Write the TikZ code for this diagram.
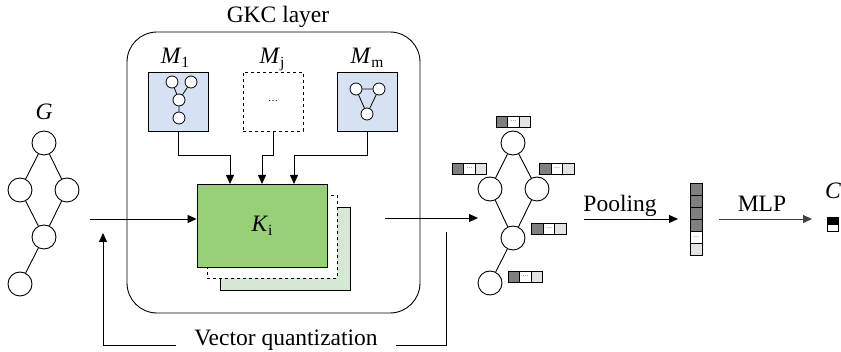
\documentclass[tikz,border=0pt]{standalone}
\usepackage{fontspec}
\setmainfont{Liberation Serif}
\usetikzlibrary{arrows.meta}
\definecolor{kgreen}{HTML}{97D077}
\definecolor{klight}{HTML}{D5E8D4}
\definecolor{mblue}{HTML}{D6E2F4}
\definecolor{dkgray}{HTML}{7F7F7F}
\definecolor{ltgray}{HTML}{E3E3E3}
\newcommand\lowsub[1]{\raisebox{-0.35ex}{\fontsize{15.5}{15.5}\selectfont #1}}
\tikzset{
  gnode/.style={circle,draw,fill=white,minimum size=24pt,inner sep=0pt},
  snode/.style={circle,draw,fill=white,minimum size=12pt,inner sep=0pt,line width=0.8pt},
  mbox/.style={draw,minimum width=60pt,minimum height=59pt,inner sep=0pt},
  kbox/.style={draw,minimum width=130pt,minimum height=83pt,inner sep=0pt},
  cell/.style={draw,minimum width=11.5pt,minimum height=11pt,inner sep=0pt,line width=0.7pt,font=\fontsize{6}{6}\selectfont},
  vcell/.style={draw,minimum width=12pt,minimum height=12pt,inner sep=0pt,line width=0.7pt,font=\fontsize{6}{6}\selectfont},
  ccell/.style={draw,minimum width=11pt,minimum height=7pt,inner sep=0pt,line width=0.7pt},
  lbl/.style={anchor=base,inner sep=0pt},
  featvec/.pic={
    \node[cell,fill=dkgray] (-a) at (-11.5,0) {};
    \node[cell,fill=white] (-b) at (0,0) {\dots};
    \node[cell,fill=ltgray] (-c) at (11.5,0) {};
  }
}
\begin{document}
\begin{tikzpicture}[x=1pt,y=-1pt,font=\fontsize{23.5}{27}\selectfont,line width=0.9pt,
  >={Triangle[length=9pt,width=8pt]}]
\useasboundingbox (0,0) rectangle (841,352);

% input graph G
\node[lbl] (glab) at (44,120) {\textit{G}};
\node[gnode] (ga) at (44,143) {};
\node[gnode] (gb) at (20,190) {};
\node[gnode] (gc) at (67,190) {};
\node[gnode] (gd) at (44,237) {};
\node[gnode] (ge) at (20,284) {};
\draw (ga) -- (gb) (ga) -- (gc) (gb) -- (gd) (gc) -- (gd) (gd) -- (ge);

% GKC layer
\node[lbl] (gkc) at (278,23) {GKC layer};
\node[draw,rounded corners=30pt,minimum width=293pt,minimum height=281pt,inner sep=0pt] (layer) at (273.5,172.5) {};

% motif boxes
\node[mbox,fill=mblue] (m1) at (178,101.5) {};
\node[mbox,dashed] (mj) at (273,101.5) {\fontsize{10}{10}\selectfont\dots};
\node[mbox,fill=mblue] (mm) at (367.5,101.5) {};
\node[lbl] (m1l) at (175,64) {\textit{M}\lowsub{1}};
\node[lbl] (mjl) at (272,64) {\textit{M}\lowsub{j}};
\node[lbl] (mml) at (367,64) {\textit{M}\lowsub{m}};

% motif 1 (Y shape)
\node[snode] (a1) at (172,82) {};
\node[snode] (a2) at (191,82) {};
\node[snode] (a3) at (179,100) {};
\node[snode] (a4) at (179,118) {};
\draw[line width=0.8pt] (a1) -- (a3) (a2) -- (a3) (a3) -- (a4);

% motif m (triangle)
\node[snode] (b1) at (356,89) {};
\node[snode] (b2) at (379,89) {};
\node[snode] (b3) at (367,114) {};
\draw[line width=0.8pt] (b1) -- (b2) -- (b3) -- (b1);

% kernel stack
\node[kbox,fill=klight] (kl) at (285.5,249) {};
\node[kbox,fill=white,dashed] (kd) at (272,237) {};
\node[kbox,fill=kgreen] (k) at (262,225.5) {};
\node[lbl] (klab) at (262,232) {\textit{K}\lowsub{i}};

% motif connectors
\coordinate (k1) at (230,184);
\coordinate (k2) at (262,184);
\coordinate (k3) at (294,184);
\draw[->,line width=0.8pt] (m1.south) -- ++(0,24) -| (k1);
\draw[->,line width=0.8pt] (mj.south) -- ++(0,24) -| (k2);
\draw[->,line width=0.8pt] (mm.south) -- ++(0,24) -| (k3);

% input arrow
\coordinate (in) at (90,219);
\draw[->] (in) -- (k.west |- in);

% output arrow
\coordinate (o1) at (385,218);
\coordinate (o2) at (478,218);
\draw[->] (o1) -- (o2);

% feedback loop
\coordinate (fb1) at (446,232);
\coordinate (fbc1) at (446,345);
\coordinate (fbc2) at (103,345);
\coordinate (fb2) at (103,233);
\node[lbl,inner xsep=18pt] (vq) at (286,346) {Vector quantization};
\draw (fb1) -- (fbc1) -- (vq.east |- fbc1);
\draw[->] (vq.west |- fbc2) -- (fbc2) -- (fb2);

% output graph
\node[gnode] (ha) at (513,143) {};
\node[gnode] (hb) at (490,189) {};
\node[gnode] (hc) at (537,189) {};
\node[gnode] (hd) at (513,238) {};
\node[gnode] (he) at (490,283) {};
\draw (ha) -- (hb) (ha) -- (hc) (hb) -- (hd) (hc) -- (hd) (hd) -- (he);
\pic (fa) at (513.5,121.5) {featvec};
\pic (fb) at (469.5,168.5) {featvec};
\pic (fc) at (557,168.5) {featvec};
\pic (fd) at (549,228.5) {featvec};
\pic (fe) at (525.5,276.5) {featvec};

% pooling
\coordinate (p1) at (584,219);
\coordinate (p2) at (678,219);
\draw[->] (p1) -- (p2);
\node[lbl] (pool) at (620,212) {Pooling};
\node[vcell,fill=dkgray] (v1) at (696,189) {};
\node[vcell,fill=dkgray] (v2) at (696,201) {};
\node[vcell,fill=dkgray] (v3) at (696,213) {};
\node[vcell,fill=dkgray] (v4) at (696,225) {};
\node[vcell,fill=white] (v5) at (696,237) {\dots};
\node[vcell,fill=ltgray] (v6) at (696,249) {};

% MLP
\coordinate (q1) at (719,219);
\coordinate (q2) at (812,219);
\draw[->,draw=black!75] (q1) -- (q2);
\node[lbl] (mlp) at (762,212) {MLP};
\node[lbl] (clab) at (833,199) {\textit{C}};
\node[ccell,fill=black] (c1) at (832.5,220.5) {};
\node[ccell,fill=white] (c2) at (832.5,227.5) {};
\end{tikzpicture}
\end{document}
